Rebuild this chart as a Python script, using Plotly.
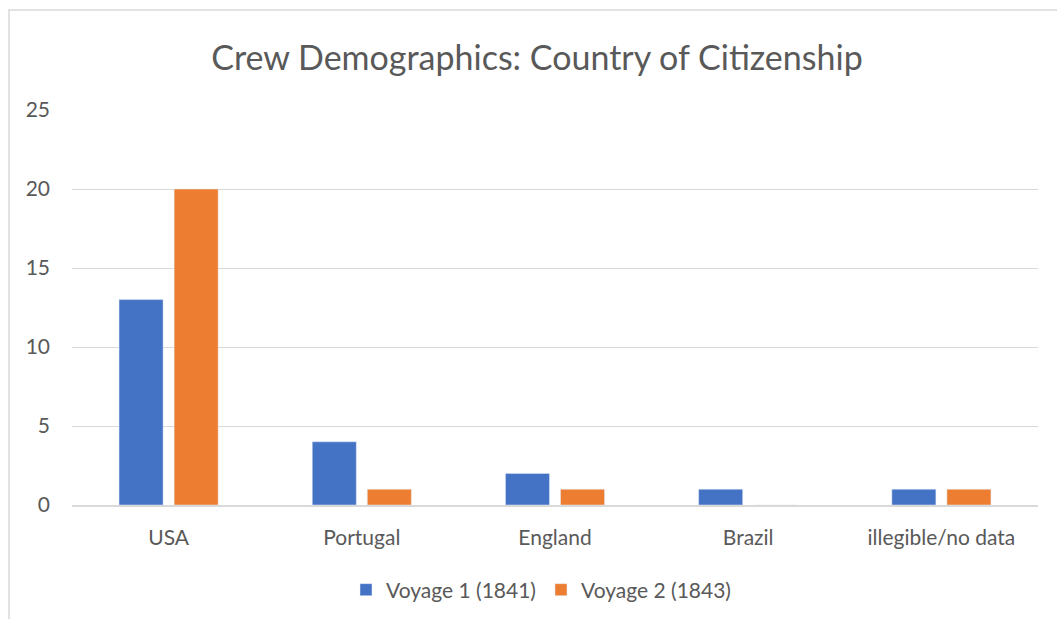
import plotly.graph_objects as go

categories = ["USA", "Portugal", "England", "Brazil", "illegible/no data"]
voyage1 = [13, 4, 2, 1, 1]
voyage2 = [20, 1, 1, 0, 1]
series_names = ["Voyage 1 (1841)", "Voyage 2 (1843)"]
colors = ["#4472C4", "#ED7D31"]

FONT = "Lato"
GRAY = "#595959"

fig = go.Figure()
fig.add_trace(go.Bar(x=categories, y=voyage1, name=series_names[0], marker_color=colors[0]))
fig.add_trace(go.Bar(x=categories, y=voyage2, name=series_names[1], marker_color=colors[1]))

fig.update_layout(
    width=1057, height=619,
    margin=dict(l=72, r=19, t=110, b=114, autoexpand=False),
    paper_bgcolor="white", plot_bgcolor="white",
    barmode="group", bargap=0.43, bargroupgap=0.2,
    title=dict(text="Crew Demographics: Country of Citizenship",
               font=dict(family=FONT, size=34, color=GRAY),
               x=537 / 1057, xanchor="center", y=1 - 58 / 619, yanchor="middle"),
    font=dict(family=FONT, size=21, color=GRAY),
    legend=dict(orientation="h", xref="container", yref="container",
                x=541 / 1057, xanchor="center", y=1 - 590 / 619, yanchor="middle",
                font=dict(family=FONT, size=21, color=GRAY), itemwidth=30,
                traceorder="normal"),
    showlegend=True,
)
fig.update_yaxes(range=[0, 25], dtick=5, showgrid=True, gridcolor="#D9D9D9", gridwidth=1,
                 zeroline=False, showline=False, ticks="", ticklabelstandoff=21,
                 automargin=False,
                 tickfont=dict(family=FONT, size=21, color=GRAY))
fig.update_xaxes(showline=True, linecolor="#D9D9D9", linewidth=1.5, ticks="",
                 ticklabelstandoff=13, automargin=False,
                 tickfont=dict(family=FONT, size=21, color=GRAY))

# outer chart border (extends past bottom/right of the visible image)
fig.add_shape(type="rect", xref="paper", yref="paper",
              x0=(9 - 72) / 966, x1=(1070 - 72) / 966,
              y0=-(640 - 505) / 395, y1=(505 - 10) / 395,
              line=dict(color="#D9D9D9", width=1.5), fillcolor="rgba(0,0,0,0)", layer="below")

fig.write_html("out.html")
